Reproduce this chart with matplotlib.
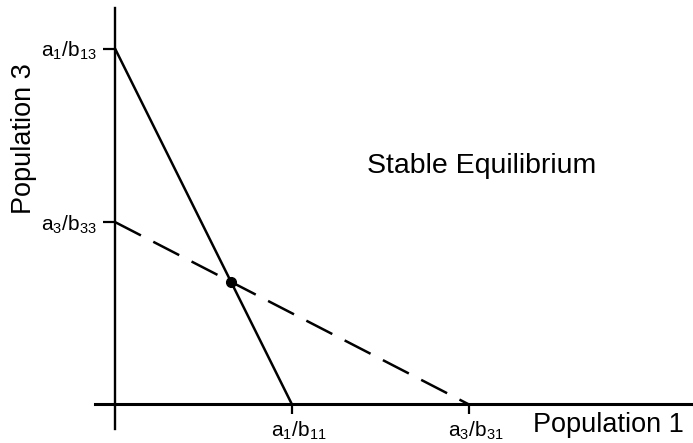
import numpy as np
import matplotlib
matplotlib.use("Agg")
import matplotlib.pyplot as plt
from matplotlib.transforms import ScaledTranslation

plt.rcParams['font.family'] = ['Liberation Sans', 'DejaVu Sans']
plt.rcParams['mathtext.fontset'] = 'custom'
plt.rcParams['mathtext.rm'] = 'Liberation Sans'
plt.rcParams['mathtext.it'] = 'Liberation Sans'
plt.rcParams['lines.scale_dashes'] = False

# isocline intercepts (population 1 axis, population 3 axis)
x_intercepts = [2.0, 4.0]     # a1/b11, a3/b31
y_intercepts = [4.0, 2.05]    # a1/b13, a3/b33
x_labels = [r'$\mathrm{a}_{1}/\mathrm{b}_{11}$', r'$\mathrm{a}_{3}/\mathrm{b}_{31}$']
y_labels = [r'$\mathrm{a}_{1}/\mathrm{b}_{13}$', r'$\mathrm{a}_{3}/\mathrm{b}_{33}$']
styles = ['-', (0, (21, 10))]

fig = plt.figure(figsize=(6.93, 4.43), dpi=100)
ax = fig.add_axes([0, 0, 1, 1])
ax.set_xlim(-1.2994, 6.531)
ax.set_ylim(-0.4326, 4.545)

for xi, yi, ls in zip(x_intercepts, y_intercepts, styles):
    ax.plot([0, xi], [yi, 0], color='black', lw=1.8, linestyle=ls,
            solid_capstyle='butt', dash_capstyle='butt')

# equilibrium where the two isoclines cross
A = np.array([[1 / x_intercepts[0], 1 / y_intercepts[0]],
              [1 / x_intercepts[1], 1 / y_intercepts[1]]])
eq = np.linalg.solve(A, [1, 1])
ax.plot(eq[0], eq[1], 'o', color='black', markersize=7)

# axes through the origin
for s in ['top', 'right']:
    ax.spines[s].set_visible(False)
ax.spines['left'].set_position(('data', 0))
ax.spines['bottom'].set_position(('data', 0))
ax.spines['left'].set_bounds(-0.275, 4.455)
ax.spines['bottom'].set_bounds(-0.226, 6.531)
ax.spines['left'].set_linewidth(1.7)
ax.spines['bottom'].set_linewidth(2.2)

ax.set_xticks(x_intercepts)
ax.set_xticklabels(x_labels)
ax.set_yticks(y_intercepts)
ax.set_yticklabels(y_labels)
ax.tick_params(axis='x', direction='out', length=7.2, width=1.6, pad=4, labelsize=15)
ax.tick_params(axis='y', direction='out', length=8.6, width=1.6, pad=4.3, labelsize=15)
for lab in ax.get_xticklabels():
    lab.set_transform(lab.get_transform() + ScaledTranslation(5 / 72, 0, fig.dpi_scale_trans))

ax.text(2.847, 2.60, 'Stable Equilibrium', fontsize=20.5, ha='left', va='baseline')
ax.text(4.723, -0.309, 'Population 1', fontsize=19.5, ha='left', va='baseline')
ax.text(-1.028, 2.983, 'Population 3', fontsize=19.5, rotation=90, ha='center', va='center')

fig.savefig('out.png', dpi=100)
